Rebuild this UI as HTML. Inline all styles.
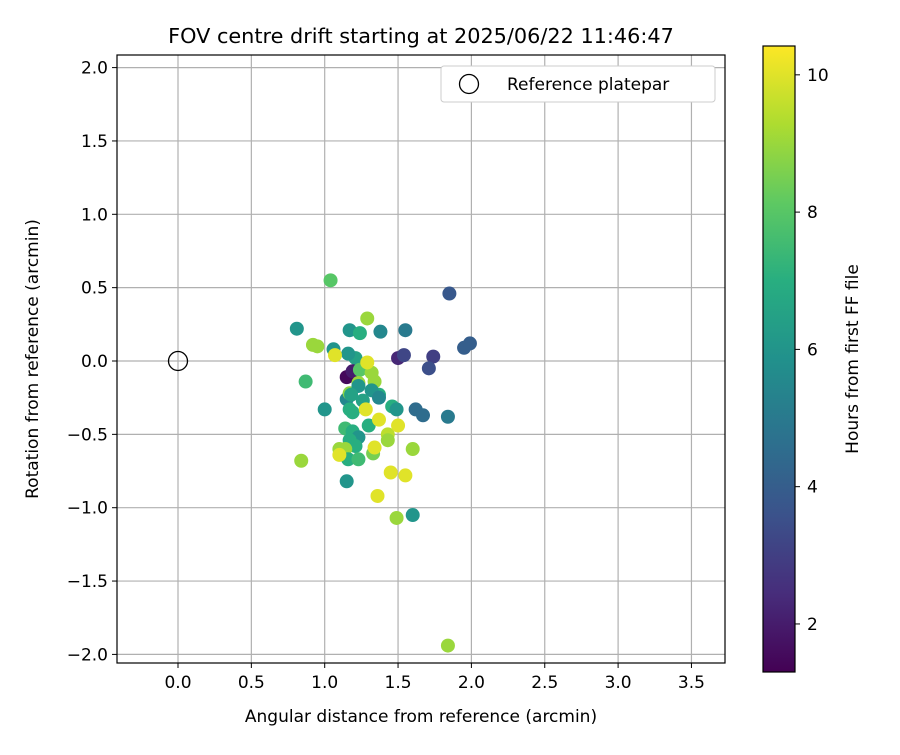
<!DOCTYPE html>
<html><head><meta charset="utf-8"><style>
body{margin:0;background:#fff;}
svg{font-family:"DejaVu Sans","Liberation Sans",sans-serif;}
</style></head><body>
<svg id="chart" width="900" height="750" viewBox="0 0 900 750" xmlns="http://www.w3.org/2000/svg">
<defs>
<linearGradient id="vir" x1="0" y1="1" x2="0" y2="0">
<stop offset="0" stop-color="#440154"/><stop offset="0.125" stop-color="#472d7b"/><stop offset="0.25" stop-color="#3b528b"/><stop offset="0.375" stop-color="#2c728e"/><stop offset="0.5" stop-color="#21918c"/><stop offset="0.625" stop-color="#28ae80"/><stop offset="0.75" stop-color="#5ec962"/><stop offset="0.875" stop-color="#addc30"/><stop offset="1" stop-color="#fde725"/>
</linearGradient>
</defs>
<text x="421" y="43" text-anchor="middle" font-size="20.8" fill="#000">FOV centre drift starting at 2025/06/22 11:46:47</text>
<g id="grid"></g>
<g id="ticks"></g>
<g id="points"></g>
<rect x="117" y="55" width="608" height="608" fill="none" stroke="#000" stroke-width="1.2"/>
<text x="421" y="722" text-anchor="middle" font-size="17">Angular distance from reference (arcmin)</text>
<text transform="translate(38,359) rotate(-90)" text-anchor="middle" font-size="17">Rotation from reference (arcmin)</text>
<g>
<rect x="441" y="66" width="274" height="36" rx="3" fill="#fff" stroke="#ccc"/>
<circle cx="469" cy="84" r="9.5" fill="none" stroke="#000" stroke-width="1.3"/>
<text x="507" y="90" font-size="17">Reference platepar</text>
</g>
<rect x="763" y="46" width="32" height="626" fill="url(#vir)" stroke="#000" stroke-width="1.2"/>
<g id="cbticks"></g>
<text transform="translate(858,359) rotate(-90)" text-anchor="middle" font-size="17">Hours from first FF file</text>
</svg>
<script>
const xs=[1.04,1.85,0.81,1.17,1.24,1.38,1.55,1.29,0.92,0.95,1.06,1.21,1.50,1.54,1.74,1.71,1.95,1.99,1.15,1.19,1.24,1.32,0.87,1.34,1.23,1.37,1.15,1.17,1.32,1.46,1.49,1.62,1.67,1.84,1.00,1.17,1.19,1.30,1.14,1.19,1.23,1.17,1.21,1.43,1.43,1.33,1.60,1.10,1.14,1.16,1.23,0.84,1.15,1.60,1.49,1.84,1.23,1.18,1.26,1.37,1.16,1.07,1.29,1.28,1.37,1.50,1.34,1.10,1.45,1.55,1.36];
const ys=[0.55,0.46,0.22,0.21,0.19,0.20,0.21,0.29,0.11,0.10,0.08,0.02,0.02,0.04,0.03,-0.05,0.09,0.12,-0.11,-0.07,-0.06,-0.08,-0.14,-0.14,-0.15,-0.23,-0.26,-0.22,-0.20,-0.31,-0.33,-0.33,-0.37,-0.38,-0.33,-0.33,-0.35,-0.44,-0.46,-0.48,-0.52,-0.54,-0.58,-0.50,-0.54,-0.63,-0.60,-0.60,-0.60,-0.67,-0.67,-0.68,-0.82,-1.05,-1.07,-1.94,-0.17,-0.23,-0.27,-0.25,0.05,0.04,-0.01,-0.33,-0.40,-0.44,-0.59,-0.64,-0.76,-0.78,-0.92];
const hours=[8,3.8,6,6,7,5.5,5,9,9,9,6,6.5,2.3,3.2,3,3.5,4,4,1.5,2,8,9,7.5,9,9,7,5.5,8.8,6,7,6,4.5,4.5,5,6,7,7,7,7.5,7,6,7,7,9.5,9,8.5,9,9,9,7,7.5,9,6,6,9,9,6,6.5,6.5,5.5,6,10,10,10,10,10,10,10,10,10,10];
const xTicks=["0.0","0.5","1.0","1.5","2.0","2.5","3.0","3.5"];
const yTicks=["2.0","1.5","1.0","0.5","0.0","\u22120.5","\u22121.0","\u22121.5","\u22122.0"];
const cbTicks=[2,4,6,8,10];
const NS="http://www.w3.org/2000/svg";
const sx=v=>178+v*146.7, sy=v=>361-v*146.7;
const cMin=1.3,cMax=10.42, cy=v=>672-(v-cMin)/(cMax-cMin)*626;
const vir=["#440154","#472d7b","#3b528b","#2c728e","#21918c","#28ae80","#5ec962","#addc30","#fde725"];
function hx(h){return [1,3,5].map(i=>parseInt(h.substr(i,2),16));}
function color(v){let t=Math.max(0,Math.min(1,(v-cMin)/(cMax-cMin)))*8;let i=Math.min(7,Math.floor(t)),f=t-i;const a=hx(vir[i]),b=hx(vir[i+1]);return "rgb("+a.map((c,k)=>Math.round(c+(b[k]-c)*f)).join(",")+")";}
function mk(tag,attrs,parent,txt){const e=document.createElementNS(NS,tag);for(const k in attrs)e.setAttribute(k,attrs[k]);if(txt!==undefined)e.textContent=txt;parent.appendChild(e);return e;}
const grid=document.getElementById('grid'),ticks=document.getElementById('ticks'),pts=document.getElementById('points'),cbt=document.getElementById('cbticks');
xTicks.forEach(t=>{const x=sx(parseFloat(t));
const g=mk('line',{x1:x,x2:x,y1:55,y2:663,stroke:'#b0b0b0','stroke-width':1.2},grid);

const l=mk('line',{x1:x,x2:x,y1:663,y2:668,stroke:'#000'},ticks);

const tx=mk('text',{x:x,y:688,'text-anchor':'middle','font-size':17},ticks,t);
});
yTicks.forEach(t=>{const y=sy(parseFloat(t.replace("\u2212","-")));
const g=mk('line',{x1:117,x2:725,y1:y,y2:y,stroke:'#b0b0b0','stroke-width':1.2},grid);

const l=mk('line',{x1:112,x2:117,y1:y,y2:y,stroke:'#000'},ticks);

const tx=mk('text',{x:108,y:y+6,'text-anchor':'end','font-size':17},ticks,t);
});
xs.forEach((x,i)=>{const c=mk('circle',{cx:sx(x),cy:sy(ys[i]),r:7,fill:color(hours[i])},pts);
});
const ref=mk('circle',{cx:sx(0),cy:sy(0),r:9.5,fill:'none',stroke:'#000','stroke-width':1.3},pts);

cbTicks.forEach(v=>{const y=cy(v);
const l=mk('line',{x1:795,x2:800,y1:y,y2:y,stroke:'#000'},cbt);

const tx=mk('text',{x:807,y:y+6,'font-size':17},cbt,String(v));
});
</script>
</body></html>
